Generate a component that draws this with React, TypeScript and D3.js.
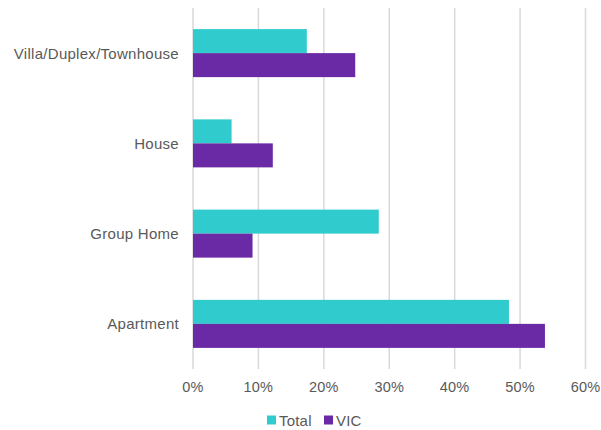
import React from "react";
import * as d3 from "d3";

const categories = ["Villa/Duplex/Townhouse", "House", "Group Home", "Apartment"];
const seriesNames = ["Total", "VIC"];
const totalValues = [0.174, 0.059, 0.284, 0.483];
const vicValues = [0.248, 0.122, 0.091, 0.538];
const xTicks = [0, 0.1, 0.2, 0.3, 0.4, 0.5, 0.6];
const colors = ["#30CBCD", "#6A2AA5"];

const W = 601;
const H = 430;
const margin = { left: 193, right: 15, top: 8, bottom: 61 };

export default function App() {
  const x = d3.scaleLinear().domain([0, 0.6]).range([margin.left, 585.5]);
  const y = d3
    .scaleBand<string>()
    .domain(categories)
    .range([margin.top, H - margin.bottom])
    .paddingInner(0.468)
    .paddingOuter(0.234);
  const sub = d3.scaleBand<string>().domain(seriesNames).range([0, y.bandwidth()]);
  const series = [totalValues, vicValues];
  const fmt = d3.format(".0%");
  const font = "'Liberation Sans', Arial, sans-serif";
  const textColor = "#595959";

  const legendX = [267, 324];

  return (
    <svg
      width={W}
      height={H}
      style={{ position: "absolute", left: 0, top: 0, background: "#fff" }}
      fontFamily={font}
    >
      {xTicks.map((t) => (
        <line
          key={"g" + t}
          x1={x(t)}
          x2={x(t)}
          y1={margin.top}
          y2={H - margin.bottom}
          stroke="#D9D9D9"
          strokeWidth={1.5}
        />
      ))}
      {categories.map((c, i) => (
        <g key={c}>
          {series.map((vals, s) => (
            <rect
              key={s}
              x={x(0)}
              y={(y(c) as number) + (sub(seriesNames[s]) as number)}
              width={x(vals[i]) - x(0)}
              height={sub.bandwidth()}
              fill={colors[s]}
            />
          ))}
          <text
            x={179}
            y={(y(c) as number) + y.bandwidth() / 2}
            textAnchor="end"
            dominantBaseline="central"
            fontSize={15}
            letterSpacing={0.28}
            fill={textColor}
          >
            {c}
          </text>
        </g>
      ))}
      {xTicks.map((t) => (
        <text
          key={"t" + t}
          x={x(t)}
          y={387}
          textAnchor="middle"
          dominantBaseline="central"
          fontSize={14.5}
          letterSpacing={0.2}
          fill={textColor}
        >
          {fmt(t)}
        </text>
      ))}
      {seriesNames.map((n, s) => (
        <g key={n}>
          <rect x={legendX[s]} y={415.5} width={9} height={9} fill={colors[s]} />
          <text
            x={legendX[s] + 12}
            y={420}
            dominantBaseline="central"
            fontSize={15}
            letterSpacing={0.2}
            fill={textColor}
          >
            {n}
          </text>
        </g>
      ))}
    </svg>
  );
}
